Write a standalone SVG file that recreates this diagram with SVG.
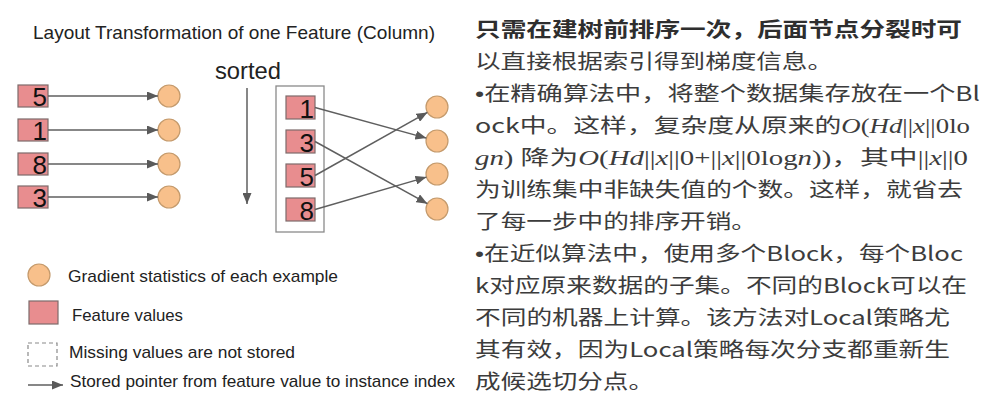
<svg xmlns="http://www.w3.org/2000/svg" width="1000" height="405" viewBox="0 0 1000 405">
<style>
.bg{fill:#ffffff}
.fv{fill:#e88d8f;stroke:#7d6b6b;stroke-width:1.2}
.gs{fill:#f8c08b;stroke:#c49a6c;stroke-width:1.2}
.num{font-family:"Liberation Sans",Arial,sans-serif;font-size:26px;fill:#111;text-anchor:end}
.lbl{font-family:"Liberation Sans",Arial,sans-serif;font-size:17px;fill:#222}
.title{font-family:"Liberation Sans",Arial,sans-serif;font-size:19px;fill:#222}
.cn{font-family:"Noto Sans CJK SC","Noto Sans",sans-serif;font-size:20px;fill:#3c3c3c}
.cnb{font-weight:bold;fill:#2e2e2e}
.bul{font-family:"Liberation Sans",Arial,sans-serif}
.m{font-family:"Liberation Serif","DejaVu Serif",serif}
.mi{font-family:"Liberation Serif","DejaVu Serif",serif;font-style:italic}
.conn{stroke:#5f5f5f;stroke-width:1.5;fill:none}
.blk{fill:#ffffff;stroke:#8a8a8a;stroke-width:1.3}
.dash{fill:none;stroke:#8a8a8a;stroke-width:1.2;stroke-dasharray:4 3}
</style>
<defs>
<marker id="ah" markerUnits="userSpaceOnUse" markerWidth="11" markerHeight="9" refX="11" refY="4.5" orient="auto">
<path d="M0,0 L11,4.5 L0,9 z" fill="#5a5a5a"/>
</marker>
</defs>
<rect class="bg" x="0" y="0" width="1000" height="405"/>

<text class="title" x="33" y="39" textLength="402" lengthAdjust="spacingAndGlyphs">Layout Transformation of one Feature (Column)</text>
<text class="lbl" x="215" y="79" style="font-size:24px" textLength="66" lengthAdjust="spacingAndGlyphs">sorted</text>

<g id="left-values">
<g id="lv5"><rect class="fv" x="18" y="85" width="30" height="22"/><text class="num" x="47" y="106">5</text></g>
<g id="lv1"><rect class="fv" x="18" y="119" width="30" height="22"/><text class="num" x="47" y="140">1</text></g>
<g id="lv8"><rect class="fv" x="18" y="153" width="30" height="22"/><text class="num" x="47" y="174">8</text></g>
<g id="lv3"><rect class="fv" x="18" y="186" width="30" height="22"/><text class="num" x="47" y="207">3</text></g>
</g>
<g id="left-grads">
<circle id="lg1" class="gs" cx="169" cy="96" r="11"/>
<circle id="lg2" class="gs" cx="169" cy="130" r="11"/>
<circle id="lg3" class="gs" cx="169" cy="164" r="11"/>
<circle id="lg4" class="gs" cx="169" cy="197" r="11"/>
</g>

<g id="block">
<rect class="blk" x="276" y="86" width="48" height="146"/>
<g id="sv1"><rect class="fv" x="286" y="96" width="29" height="23"/><text class="num" x="314" y="118">1</text></g>
<g id="sv3"><rect class="fv" x="286" y="130" width="29" height="23"/><text class="num" x="314" y="152">3</text></g>
<g id="sv5"><rect class="fv" x="286" y="164" width="29" height="23"/><text class="num" x="314" y="186">5</text></g>
<g id="sv8"><rect class="fv" x="286" y="198" width="29" height="23"/><text class="num" x="314" y="220">8</text></g>
</g>
<g id="right-grads">
<circle id="rg1" class="gs" cx="437" cy="107" r="11"/>
<circle id="rg2" class="gs" cx="437" cy="141" r="11"/>
<circle id="rg3" class="gs" cx="437" cy="174" r="11"/>
<circle id="rg4" class="gs" cx="437" cy="209" r="11"/>
</g>

<g id="connectors">
<line class="conn" x1="48" y1="96" x2="158" y2="96" marker-end="url(#ah)"/>
<line class="conn" x1="48" y1="130" x2="158" y2="130" marker-end="url(#ah)"/>
<line class="conn" x1="48" y1="164" x2="158" y2="164" marker-end="url(#ah)"/>
<line class="conn" x1="48" y1="197" x2="158" y2="197" marker-end="url(#ah)"/>
<line class="conn" x1="247" y1="88" x2="247" y2="204" marker-end="url(#ah)"/>
<line class="conn" x1="315" y1="107.5" x2="426.4" y2="138.1" marker-end="url(#ah)"/>
<line class="conn" x1="315" y1="141.5" x2="427.4" y2="203.7" marker-end="url(#ah)"/>
<line class="conn" x1="315" y1="175.5" x2="427.4" y2="112.4" marker-end="url(#ah)"/>
<line class="conn" x1="315" y1="209.5" x2="426.5" y2="177.1" marker-end="url(#ah)"/>
<line class="conn" x1="28" y1="385" x2="63" y2="385" marker-end="url(#ah)"/>
</g>

<g id="legend">
<circle class="gs" cx="39" cy="275" r="11"/>
<text class="lbl" x="68" y="282" textLength="270" lengthAdjust="spacingAndGlyphs">Gradient statistics of each example</text>
<rect class="fv" x="29" y="301" width="29" height="23"/>
<text class="lbl" x="72" y="321" textLength="111" lengthAdjust="spacingAndGlyphs">Feature values</text>
<rect class="dash" x="28" y="343" width="29" height="23"/>
<text class="lbl" x="69" y="358" textLength="226" lengthAdjust="spacingAndGlyphs">Missing values are not stored</text>
<text class="lbl" x="70" y="387" textLength="385" lengthAdjust="spacingAndGlyphs">Stored pointer from feature value to instance index</text>
</g>

<g id="notes">
<text class="cn cnb" x="475" y="36.5" textLength="487" lengthAdjust="spacingAndGlyphs">只需在建树前排序一次，后面节点分裂时可</text>
<text class="cn" x="475" y="68.5" textLength="358" lengthAdjust="spacingAndGlyphs">以直接根据索引得到梯度信息。</text>
<text class="cn" x="475" y="100.5" textLength="505" lengthAdjust="spacingAndGlyphs"><tspan class="bul">•</tspan>在精确算法中，将整个数据集存放在一个Bl</text>
<text class="cn" x="475" y="132.5" textLength="495" lengthAdjust="spacingAndGlyphs">ock中。这样，复杂度从原来的<tspan class="mi">O</tspan><tspan class="m">(</tspan><tspan class="mi">Hd</tspan><tspan class="m">||</tspan><tspan class="mi">x</tspan><tspan class="m">||0lo</tspan></text>
<text class="cn" x="475" y="164.5" textLength="493" lengthAdjust="spacingAndGlyphs"><tspan class="mi">gn</tspan><tspan class="m">) </tspan>降为<tspan class="mi">O</tspan><tspan class="m">(</tspan><tspan class="mi">Hd</tspan><tspan class="m">||</tspan><tspan class="mi">x</tspan><tspan class="m">||0+||</tspan><tspan class="mi">x</tspan><tspan class="m">||0log</tspan><tspan class="mi">n</tspan><tspan class="m">))</tspan>，其中<tspan class="m">||</tspan><tspan class="mi">x</tspan><tspan class="m">||0</tspan></text>
<text class="cn" x="475" y="196.5" textLength="488" lengthAdjust="spacingAndGlyphs">为训练集中非缺失值的个数。这样，就省去</text>
<text class="cn" x="475" y="228.5" textLength="282" lengthAdjust="spacingAndGlyphs">了每一步中的排序开销。</text>
<text class="cn" x="475" y="260.5" textLength="488" lengthAdjust="spacingAndGlyphs"><tspan class="bul">•</tspan>在近似算法中，使用多个Block，每个Bloc</text>
<text class="cn" x="475" y="292.5" textLength="492" lengthAdjust="spacingAndGlyphs">k对应原来数据的子集。不同的Block可以在</text>
<text class="cn" x="475" y="324.5" textLength="475" lengthAdjust="spacingAndGlyphs">不同的机器上计算。该方法对Local策略尤</text>
<text class="cn" x="475" y="356.5" textLength="475" lengthAdjust="spacingAndGlyphs">其有效，因为Local策略每次分支都重新生</text>
<text class="cn" x="475" y="388.5" textLength="179" lengthAdjust="spacingAndGlyphs">成候选切分点。</text>
</g>
</svg>
